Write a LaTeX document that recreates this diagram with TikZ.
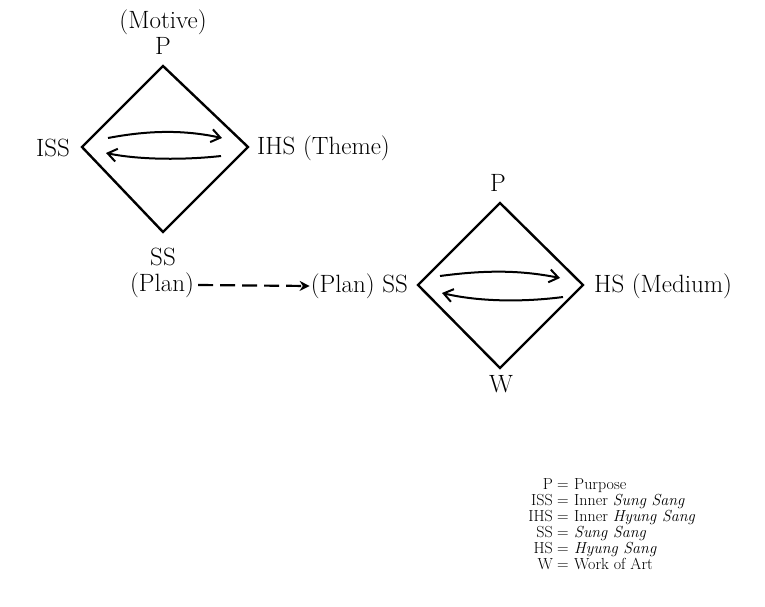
\documentclass[tikz,border=0pt]{standalone}
\usetikzlibrary{arrows.meta}
\begin{document}
\begin{tikzpicture}[x=1pt,y=-1pt,
  lab/.style={font=\fontsize{25}{28}\selectfont, inner sep=0pt},
  leg/.style={font=\fontsize{16}{18}\selectfont, inner sep=0pt},
  dia/.style={line width=2.4pt, line join=miter},
  cyc/.style={line width=2pt, -{Straight Barb[length=9pt,width=13pt]}}]
\useasboundingbox (0,0) rectangle (765,606);
% diamond 1
\coordinate (t1) at (163,66); \coordinate (l1) at (82,147);
\coordinate (r1) at (248,147); \coordinate (b1) at (163,232);
\draw[dia] (t1) -- (r1) -- (b1) -- (l1) -- cycle;
\draw[cyc] (108,138) .. controls (150,130) and (185,130) .. (222,138);
\draw[cyc] (221,156) .. controls (185,160) and (140,160) .. (106,153);
\node[lab] (motive) at (163,22) {(Motive)};
\node[lab] (p1) at (163,46) {P};
\node[lab,anchor=east] (iss) at (70,148) {ISS};
\node[lab,anchor=west] (ihs) at (257,148) {IHS (Theme)};
\node[lab] (ss1) at (163,257) {SS};
\node[lab] (plan1) at (162,285) {(Plan)};
% diamond 2
\coordinate (t2) at (500,203); \coordinate (l2) at (418,285);
\coordinate (r2) at (583,285); \coordinate (b2) at (500,368);
\draw[dia] (t2) -- (r2) -- (b2) -- (l2) -- cycle;
\draw[cyc] (440,276) .. controls (485,270) and (520,270) .. (560,278);
\draw[cyc] (563,297) .. controls (525,302) and (480,302) .. (442,293);
\node[lab] (p2) at (498,183) {P};
\node[lab] (w2) at (501,384) {W};
\node[lab,anchor=east] (plan2) at (408,286) {(Plan) SS};
\node[lab,anchor=west] (hs) at (594,286) {HS (Medium)};
\draw[line width=2.2pt, dash pattern=on 15pt off 7pt, -{Stealth[length=10pt,width=10pt]}] ([xshift=4pt]plan1.east) -- ([xshift=-1pt]plan2.west);
% legend
\foreach \a/\b/\y in {P/Purpose/484, ISS/Inner \textit{Sung Sang}/500, IHS/Inner \textit{Hyung Sang}/516, SS/\textit{Sung Sang}/532, HS/\textit{Hyung Sang}/548, W/Work of Art/564}{
  \node[leg,anchor=base east] at (553,\y+5) {\a};
  \node[leg,anchor=base] at (563,\y+5) {=};
  \node[leg,anchor=base west] at (574,\y+5) {\b};
}
\end{tikzpicture}
\end{document}
